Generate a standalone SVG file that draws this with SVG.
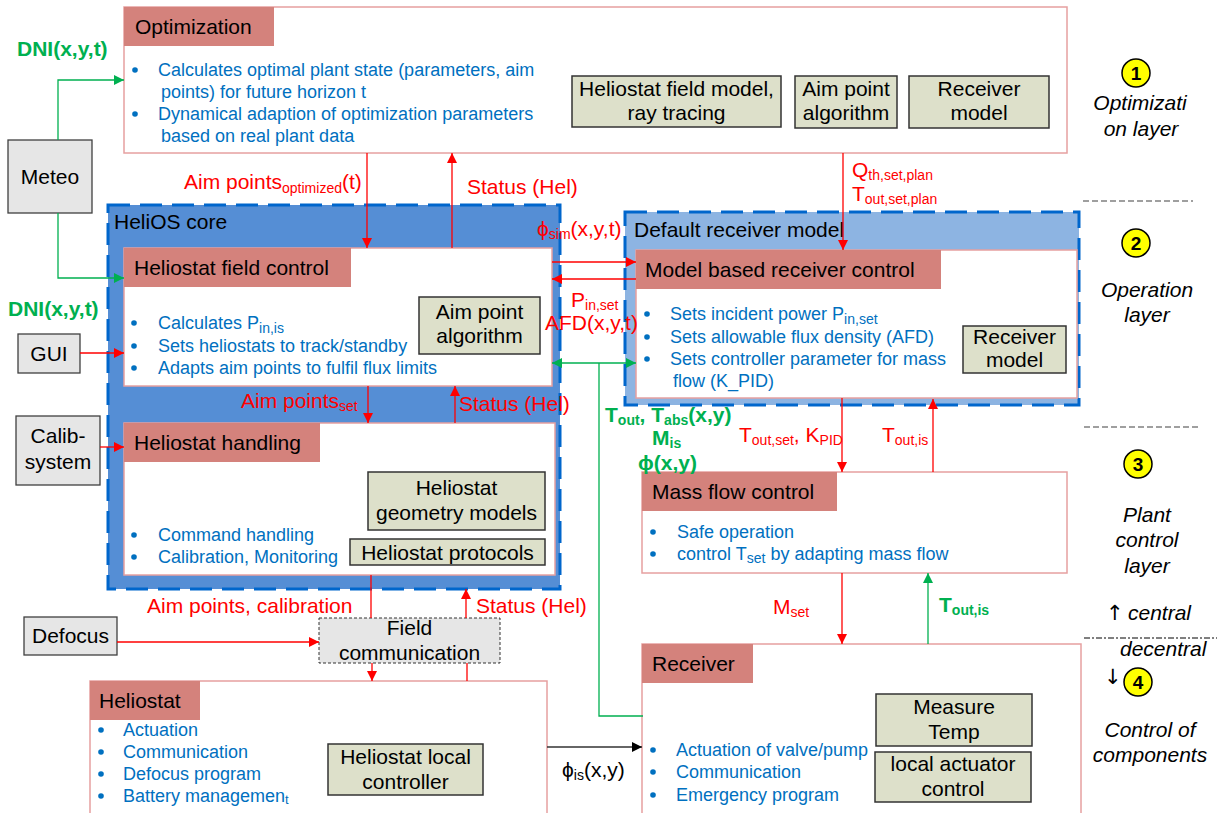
<svg xmlns="http://www.w3.org/2000/svg" width="1217" height="813" viewBox="0 0 1217 813">
<defs>
<style>
text{font-family:"Liberation Sans",Arial,sans-serif;font-size:21px;fill:#000}
.box{fill:#fff;stroke:#e6a0a0;stroke-width:1.5}
.ttl{fill:#d4827c}
.gray{fill:#e6e6e6;stroke:#404040;stroke-width:1.3}
.gb{fill:#dde0ca;stroke:#333;stroke-width:1.5}
.core{stroke:#0066cc;stroke-width:3;stroke-dasharray:22,10}
.bul{font-size:18px;fill:#0070c0}
.dot{fill:#0070c0}
.c{text-anchor:middle}
.red{fill:#ff0000}
.grn{fill:#00b050;font-weight:bold}
.it{font-style:italic}
.arw{font-family:"DejaVu Sans",sans-serif;font-style:normal}
.rl{stroke:#ff0000;stroke-width:1.3;fill:none}
.gl{stroke:#00b050;stroke-width:1.3;fill:none}
.kl{stroke:#333;stroke-width:1.3;fill:none}
.yc{fill:#ffff00;stroke:#000;stroke-width:1.5}
.num{font-weight:bold;font-size:19px;text-anchor:middle}
</style>
<marker id="ar" viewBox="0 0 10 10" refX="10" refY="5" markerWidth="11" markerHeight="10" markerUnits="userSpaceOnUse" orient="auto-start-reverse"><path d="M0,0 L10,5 L0,10 z" fill="#ff0000"/></marker>
<marker id="ag" viewBox="0 0 10 10" refX="10" refY="5" markerWidth="11" markerHeight="10" markerUnits="userSpaceOnUse" orient="auto-start-reverse"><path d="M0,0 L10,5 L0,10 z" fill="#00b050"/></marker>
<marker id="ak" viewBox="0 0 10 10" refX="10" refY="5" markerWidth="11" markerHeight="10" markerUnits="userSpaceOnUse" orient="auto-start-reverse"><path d="M0,0 L10,5 L0,10 z" fill="#000"/></marker>
</defs>
<rect width="1217" height="813" fill="#fff"/>

<g id="heliOS-core">
<rect class="core" x="108" y="205" width="452" height="384" fill="#558ed5"/>
<text x="114" y="229">HeliOS core</text>
</g>
<g id="default-receiver-model">
<rect class="core" x="625" y="212" width="454" height="193" fill="#8db4e2"/>
<text x="634" y="237">Default receiver model</text>
</g>

<g id="optimization">
<rect class="box" x="124" y="7" width="943" height="146"/>
<rect class="ttl" x="124" y="7" width="150" height="39"/>
<text x="135" y="34">Optimization</text>
<circle class="dot" cx="135" cy="70" r="2.8"/>
<text class="bul" x="158" y="76">Calculates optimal plant state (parameters, aim</text>
<text class="bul" x="161" y="98">points) for future horizon t</text>
<circle class="dot" cx="135" cy="114" r="2.8"/>
<text class="bul" x="158" y="120">Dynamical adaption of optimization parameters</text>
<text class="bul" x="161" y="142">based on real plant data</text>
<rect class="gb" x="572" y="76" width="209" height="51"/>
<text class="c" x="676.5" y="96">Heliostat field model,</text>
<text class="c" x="676.5" y="120">ray tracing</text>
<rect class="gb" x="795" y="76" width="102" height="52"/>
<text class="c" x="846" y="96">Aim point</text>
<text class="c" x="846" y="120">algorithm</text>
<rect class="gb" x="909" y="76" width="140" height="52"/>
<text class="c" x="979" y="96">Receiver</text>
<text class="c" x="979" y="120">model</text>
</g>

<g id="meteo">
<rect class="gray" x="8" y="140" width="84" height="73"/>
<text class="c" x="50" y="184">Meteo</text>
</g>
<g id="gui">
<rect class="gray" x="18" y="334" width="62" height="39"/>
<text class="c" x="49" y="361">GUI</text>
</g>
<g id="calib-system">
<rect class="gray" x="16" y="416" width="84" height="69"/>
<text class="c" x="58" y="443">Calib-</text>
<text class="c" x="58" y="469">system</text>
</g>
<g id="defocus">
<rect class="gray" x="24" y="617" width="93" height="38"/>
<text class="c" x="70.5" y="643">Defocus</text>
</g>

<g id="heliostat-field-control">
<rect class="box" x="124" y="248" width="428" height="138"/>
<rect class="ttl" x="124" y="248" width="227" height="39"/>
<text x="134" y="275">Heliostat field control</text>
<circle class="dot" cx="134" cy="323" r="2.8"/>
<text class="bul" x="158" y="329">Calculates P<tspan font-size="14" dy="4">in,is</tspan></text>
<circle class="dot" cx="134" cy="346" r="2.8"/>
<text class="bul" x="158" y="352">Sets heliostats to track/standby</text>
<circle class="dot" cx="134" cy="368" r="2.8"/>
<text class="bul" x="158" y="374">Adapts aim points to fulfil flux limits</text>
<rect class="gb" x="419" y="297" width="121" height="57"/>
<text class="c" x="479.5" y="319">Aim point</text>
<text class="c" x="479.5" y="343">algorithm</text>
</g>

<g id="heliostat-handling">
<rect class="box" x="124" y="423" width="431" height="152"/>
<rect class="ttl" x="124" y="423" width="196" height="39"/>
<text x="134" y="450">Heliostat handling</text>
<rect class="gb" x="368" y="472" width="177" height="58"/>
<text class="c" x="456.5" y="495">Heliostat</text>
<text class="c" x="456.5" y="520">geometry models</text>
<rect class="gb" x="350" y="539" width="195" height="26"/>
<text class="c" x="447.5" y="560">Heliostat protocols</text>
<circle class="dot" cx="134" cy="535" r="2.8"/>
<text class="bul" x="158" y="541">Command handling</text>
<circle class="dot" cx="134" cy="557" r="2.8"/>
<text class="bul" x="158" y="563">Calibration, Monitoring</text>
</g>

<g id="model-based-receiver-control">
<rect class="box" x="636" y="250" width="441" height="148"/>
<rect class="ttl" x="636" y="250" width="305" height="39"/>
<text x="645" y="277">Model based receiver control</text>
<circle class="dot" cx="647" cy="314" r="2.8"/>
<text class="bul" x="670" y="320">Sets incident power P<tspan font-size="14" dy="4">in,set</tspan></text>
<circle class="dot" cx="647" cy="337" r="2.8"/>
<text class="bul" x="670" y="343">Sets allowable flux density (AFD)</text>
<circle class="dot" cx="647" cy="359" r="2.8"/>
<text class="bul" x="670" y="365">Sets controller parameter for mass</text>
<text class="bul" x="673" y="387">flow (K_PID)</text>
<rect class="gb" x="963" y="326" width="103" height="47"/>
<text class="c" x="1014.5" y="344">Receiver</text>
<text class="c" x="1014.5" y="367">model</text>
</g>

<g id="mass-flow-control">
<rect class="box" x="642" y="472" width="425" height="101"/>
<rect class="ttl" x="642" y="472" width="195" height="39"/>
<text x="652" y="499">Mass flow control</text>
<circle class="dot" cx="653" cy="532" r="2.8"/>
<text class="bul" x="677" y="538">Safe operation</text>
<circle class="dot" cx="653" cy="554" r="2.8"/>
<text class="bul" x="677" y="560">control T<tspan font-size="14" dy="3">set</tspan><tspan dy="-3"> by adapting mass flow</tspan></text>
</g>

<g id="field-communication">
<rect x="319" y="618" width="181" height="45" fill="#e6e6e6" stroke="#333" stroke-width="1" stroke-dasharray="3,2"/>
<text class="c" x="409.5" y="635">Field</text>
<text class="c" x="409.5" y="660">communication</text>
</g>

<g id="heliostat">
<rect class="box" x="90" y="681" width="457" height="140"/>
<rect class="ttl" x="90" y="681" width="110" height="39"/>
<text x="99" y="708">Heliostat</text>
<circle class="dot" cx="101" cy="730" r="2.8"/>
<text class="bul" x="123" y="736">Actuation</text>
<circle class="dot" cx="101" cy="752" r="2.8"/>
<text class="bul" x="123" y="758">Communication</text>
<circle class="dot" cx="101" cy="774" r="2.8"/>
<text class="bul" x="123" y="780">Defocus program</text>
<circle class="dot" cx="101" cy="796" r="2.8"/>
<text class="bul" x="123" y="802">Battery managemen<tspan font-size="13" dy="2">t</tspan></text>
<rect class="gb" x="328" y="744" width="155" height="51"/>
<text class="c" x="405.5" y="764">Heliostat local</text>
<text class="c" x="405.5" y="789">controller</text>
</g>

<g id="receiver">
<rect class="box" x="642" y="644" width="439" height="177"/>
<rect class="ttl" x="642" y="644" width="111" height="39"/>
<text x="652" y="671">Receiver</text>
<rect class="gb" x="876" y="694" width="156" height="52"/>
<text class="c" x="954" y="714">Measure</text>
<text class="c" x="954" y="739">Temp</text>
<rect class="gb" x="875" y="752" width="156" height="50"/>
<text class="c" x="953" y="771">local actuator</text>
<text class="c" x="953" y="796">control</text>
<circle class="dot" cx="653" cy="750" r="2.8"/>
<text class="bul" x="676" y="756">Actuation of valve/pump</text>
<circle class="dot" cx="653" cy="772" r="2.8"/>
<text class="bul" x="676" y="778">Communication</text>
<circle class="dot" cx="653" cy="795" r="2.8"/>
<text class="bul" x="676" y="801">Emergency program</text>
</g>

<g id="connectors">
<path class="gl" d="M58,140 V80 H124" marker-end="url(#ag)"/>
<path class="gl" d="M58,213 V278 H124" marker-end="url(#ag)"/>
<path class="rl" d="M80,353 H124" marker-end="url(#ar)"/>
<path class="rl" d="M100,447 H124" marker-end="url(#ar)"/>
<path class="rl" d="M117,642 H319" marker-end="url(#ar)"/>
<path class="rl" d="M367,153 V248" marker-end="url(#ar)"/>
<path class="rl" d="M452,248 V153" marker-end="url(#ar)"/>
<path class="rl" d="M368,386 V423" marker-end="url(#ar)"/>
<path class="rl" d="M455,423 V386" marker-end="url(#ar)"/>
<path class="rl" d="M371,575 V618"/>
<path class="rl" d="M372,663 V681" marker-end="url(#ar)"/>
<path class="rl" d="M467,681 V663"/>
<path class="rl" d="M466,618 V589" marker-end="url(#ar)"/>
<path class="rl" d="M552,262 H636" marker-end="url(#ar)"/>
<path class="rl" d="M636,279 H552" marker-end="url(#ar)"/>
<path class="gl" d="M552,363 H636" marker-start="url(#ag)" marker-end="url(#ag)"/>
<path class="gl" d="M643,716 H599 V363"/>
<path class="rl" d="M843,153 V250" marker-end="url(#ar)"/>
<path class="rl" d="M842,398 V472" marker-end="url(#ar)"/>
<path class="rl" d="M933,472 V399" marker-end="url(#ar)"/>
<path class="rl" d="M842,573 V644" marker-end="url(#ar)"/>
<path class="gl" d="M928,644 V573" marker-end="url(#ag)"/>
<path class="kl" d="M547,747 H642" marker-end="url(#ak)"/>

<text class="grn" x="17" y="56">DNI(x,y,t)</text>
<text class="grn" x="8" y="316">DNI(x,y,t)</text>
<text class="red" x="184" y="189">Aim points<tspan font-size="14" dy="4">optimized</tspan><tspan dy="-4">(t)</tspan></text>
<text class="red" x="467" y="194">Status (Hel)</text>
<text class="red" x="852" y="177">Q<tspan font-size="14" dy="3">th,set,plan</tspan></text>
<text class="red" x="852" y="201">T<tspan font-size="14" dy="3">out,set,plan</tspan></text>
<text class="red" x="537" y="236">ϕ<tspan font-size="14" dy="3">sim</tspan><tspan dy="-3">(x,y,t)</tspan></text>
<text class="red" x="571" y="307">P<tspan font-size="14" dy="3">in,set</tspan></text>
<text class="red" x="545" y="330">AFD(x,y,t)</text>
<text class="red" x="241" y="408">Aim points<tspan font-size="14" dy="3">set</tspan></text>
<text class="red" x="459" y="411">Status (Hel)</text>
<text class="grn" x="605" y="422">T<tspan font-size="14" dy="3">out</tspan><tspan dy="-3">, T</tspan><tspan font-size="14" dy="3">abs</tspan><tspan dy="-3">(x,y)</tspan></text>
<text class="grn" x="652" y="445">M<tspan font-size="14" dy="3">is</tspan></text>
<text class="grn" x="638" y="470">ϕ(x,y)</text>
<text class="red" x="739" y="442">T<tspan font-size="14" dy="3">out,set</tspan><tspan dy="-3">, K</tspan><tspan font-size="14" dy="3">PID</tspan></text>
<text class="red" x="882" y="442">T<tspan font-size="14" dy="3">out,is</tspan></text>
<text class="red" x="147" y="613">Aim points, calibration</text>
<text class="red" x="476" y="613">Status (Hel)</text>
<text class="red" x="773" y="614">M<tspan font-size="14" dy="3">set</tspan></text>
<text class="grn" x="939" y="612">T<tspan font-size="14" dy="3">out,is</tspan></text>
<text x="562" y="777">ϕ<tspan font-size="14" dy="3">is</tspan><tspan dy="-3">(x,y)</tspan></text>
</g>

<g id="layers">
<circle class="yc" cx="1136" cy="73" r="14"/>
<text class="num" x="1136" y="80">1</text>
<text class="it c" x="1140" y="110">Optimizati</text>
<text class="it c" x="1141" y="136">on layer</text>
<line x1="1083" y1="201" x2="1193" y2="201" stroke="#808080" stroke-width="1.5" stroke-dasharray="6,3"/>
<circle class="yc" cx="1136" cy="243" r="14"/>
<text class="num" x="1136" y="250">2</text>
<text class="it c" x="1147" y="297">Operation</text>
<text class="it c" x="1147" y="322">layer</text>
<line x1="1084" y1="427" x2="1200" y2="427" stroke="#808080" stroke-width="1.5" stroke-dasharray="6,3"/>
<circle class="yc" cx="1138" cy="464" r="14"/>
<text class="num" x="1138" y="471">3</text>
<text class="it c" x="1147" y="522">Plant</text>
<text class="it c" x="1147" y="547">control</text>
<text class="it c" x="1147" y="573">layer</text>
<text class="arw" x="1106" y="620" font-size="24">↑</text>
<text class="it" x="1128" y="620">central</text>
<line x1="1084" y1="638" x2="1217" y2="638" stroke="#000" stroke-width="1" stroke-dasharray="6,2,2,2"/>
<text class="it" x="1120" y="656">decentral</text>
<text class="arw" x="1104" y="684" font-size="24">↓</text>
<circle class="yc" cx="1138" cy="682" r="14"/>
<text class="num" x="1138" y="689">4</text>
<text class="it c" x="1150" y="737">Control of</text>
<text class="it c" x="1150" y="762">components</text>
</g>
</svg>
